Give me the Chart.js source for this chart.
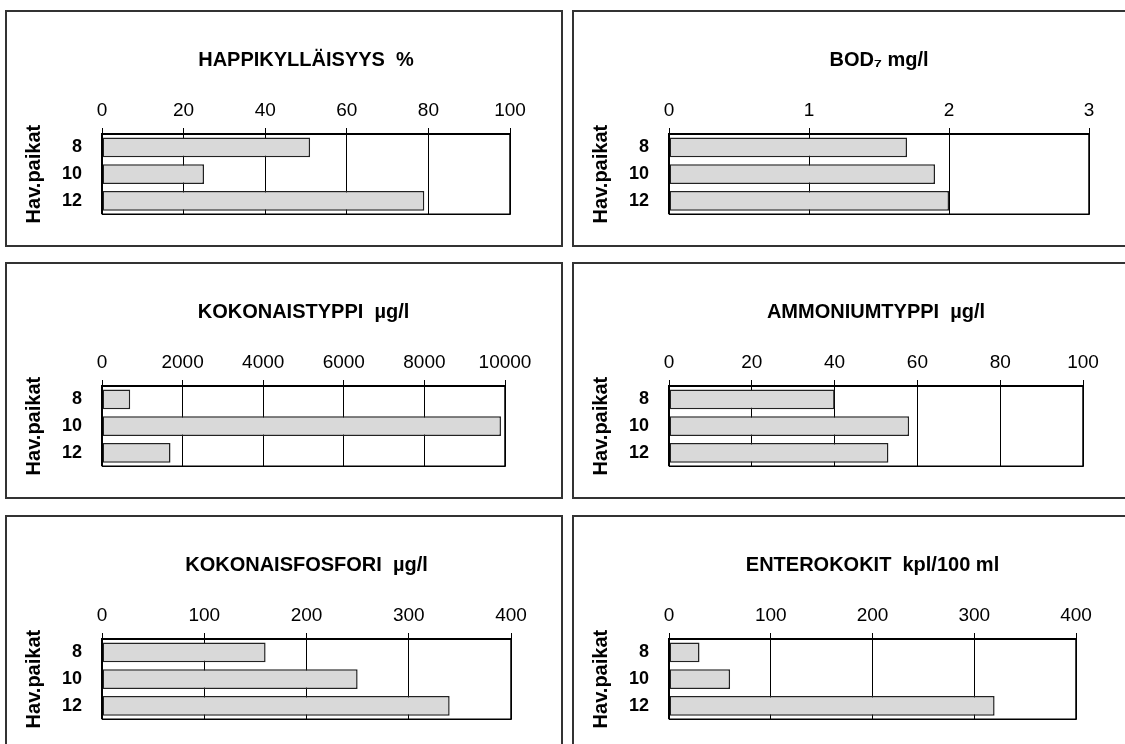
<!DOCTYPE html>
<html lang="fi">
<head>
<meta charset="UTF-8">
<title>Havaintopaikat</title>
<script src="https://cdn.jsdelivr.net/npm/chart.js"></script>
<style>
  html, body { margin: 0; padding: 0; background: #fff; overflow: hidden; }
  body { width: 1125px; height: 744px; position: relative; }
  .panel {
    position: absolute;
    width: 558px;
    height: 237px;
    box-sizing: border-box;
    border: 2px solid #333;
    background: #fff;
  }
  .panel canvas { display: block; }
</style>
</head>
<body>
<div class="panel" style="left:5px;top:10px"><canvas id="happi" width="554" height="233"></canvas></div>
<div class="panel" style="left:572px;top:10px"><canvas id="bod" width="554" height="233"></canvas></div>
<div class="panel" style="left:5px;top:262px"><canvas id="kokN" width="554" height="233"></canvas></div>
<div class="panel" style="left:572px;top:262px"><canvas id="ammN" width="554" height="233"></canvas></div>
<div class="panel" style="left:5px;top:515px"><canvas id="kokP" width="554" height="233"></canvas></div>
<div class="panel" style="left:572px;top:515px"><canvas id="entero" width="554" height="233"></canvas></div>

<script>
Chart.defaults.font.family = "'Liberation Sans', Arial, sans-serif";
Chart.defaults.color = '#000';

// Havaintopaikat
const stations = ['8', '10', '12'];

// Mittaukset
const happiValues = [51, 25, 79];
const bodValues = [1.7, 1.9, 2.0];
const kokNValues = [700, 9900, 1700];
const ammNValues = [40, 58, 53];
const kokPValues = [160, 250, 340];
const enteroValues = [30, 60, 320];

// Akselien jaotus
const happiTicks = [0, 20, 40, 60, 80, 100];
const bodTicks = [0, 1, 2, 3];
const kokNTicks = [0, 2000, 4000, 6000, 8000, 10000];
const ammNTicks = [0, 20, 40, 60, 80, 100];
const kokPTicks = [0, 100, 200, 300, 400];
const enteroTicks = [0, 100, 200, 300, 400];

// kehys kuvaajan ympärille (vasen, oikea, ala)
const frame = {
    id: 'frame',
    afterDatasetsDraw(chart) {
        const { ctx, chartArea: a } = chart;
        ctx.save();
        ctx.strokeStyle = '#000';
        ctx.lineWidth = 2;
        ctx.beginPath();
        ctx.moveTo(a.left, a.top);
        ctx.lineTo(a.left, a.bottom);
        ctx.stroke();
        ctx.lineWidth = 1.5;
        ctx.beginPath();
        ctx.moveTo(a.left, a.bottom);
        ctx.lineTo(a.right, a.bottom);
        ctx.lineTo(a.right, a.top);
        ctx.stroke();
        ctx.restore();
    }
};

function makeChart(id, title, values, ticks, padRight) {
    return new Chart(document.getElementById(id), {
        type: 'bar',
        data: {
            labels: stations,
            datasets: [{
                data: values,
                backgroundColor: '#d9d9d9',
                borderColor: '#222',
                borderWidth: 1.5,
                borderSkipped: false,
                categoryPercentage: 1,
                barPercentage: 0.74
            }]
        },
        options: {
            indexAxis: 'y',
            responsive: false,
            animation: false,
            layout: { padding: { top: 0, left: 0, right: padRight, bottom: 27 } },
            plugins: { legend: { display: false }, tooltip: { enabled: false } },
            scales: {
                x: {
                    position: 'top',
                    min: ticks[0],
                    max: ticks[ticks.length - 1],
                    afterBuildTicks: s => { s.ticks = ticks.map(v => ({ value: v })); },
                    afterFit: s => { s.height = 122; },
                    ticks: {
                        padding: 6,
                        font: { size: 19 },
                        color: '#000',
                        autoSkip: false,
                        maxRotation: 0,
                        callback: v => String(v)
                    },
                    grid: { color: '#000', lineWidth: 1, tickLength: 6, tickColor: '#000' },
                    border: { display: true, color: '#000', width: 2 },
                    title: {
                        display: true,
                        text: title,
                        color: '#000',
                        font: { size: 20, weight: 'bold' },
                        padding: { top: 36, bottom: 0 }
                    }
                },
                y: {
                    afterFit: s => { s.width = 95; },
                    ticks: { padding: 20, font: { size: 18, weight: 'bold' }, color: '#000' },
                    grid: { display: false, drawTicks: false },
                    border: { display: false },
                    title: {
                        display: true,
                        text: 'Hav.paikat',
                        color: '#000',
                        font: { size: 20, weight: 'bold' },
                        padding: { top: 15, bottom: 0 }
                    }
                }
            }
        },
        plugins: [frame]
    });
}

makeChart('happi', 'HAPPIKYLLÄISYYS  %', happiValues, happiTicks, 51);
makeChart('bod', 'BOD\u2087 mg/l', bodValues, bodTicks, 39);
makeChart('kokN', 'KOKONAISTYPPI  µg/l', kokNValues, kokNTicks, 56);
makeChart('ammN', 'AMMONIUMTYPPI  µg/l', ammNValues, ammNTicks, 45);
makeChart('kokP', 'KOKONAISFOSFORI  µg/l', kokPValues, kokPTicks, 50);
makeChart('entero', 'ENTEROKOKIT  kpl/100 ml', enteroValues, enteroTicks, 52);
</script>
</body>
</html>
